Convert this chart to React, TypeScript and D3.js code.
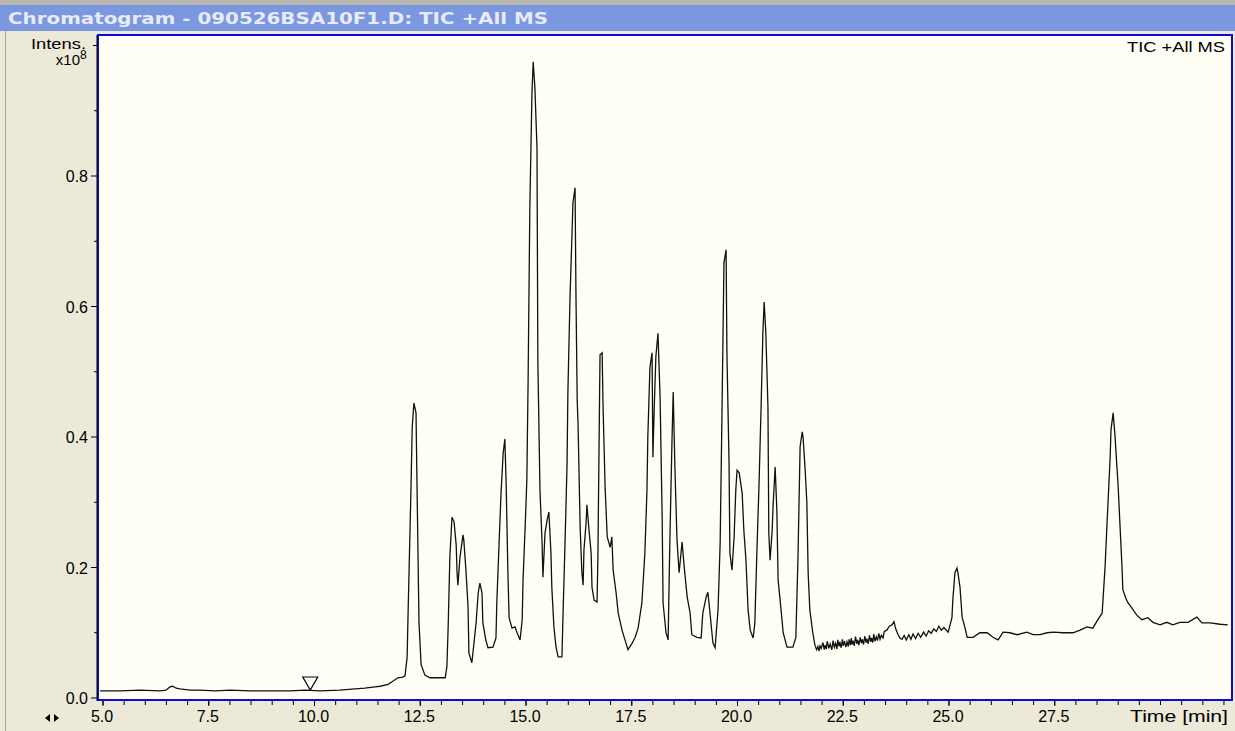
import React from "react";
import * as d3 from "d3";

// ---- data ----
const retentionTime: number[] = [
  4.93, 5.4, 5.87, 6.35, 6.49, 6.58, 6.65, 6.73, 6.82, 7.06, 7.29, 7.65, 8.0, 8.48, 8.95, 9.42, 9.78, 10.13, 10.6,
  10.96, 11.19, 11.43, 11.55, 11.74, 11.86, 11.97, 12.09, 12.14,
  12.19, 12.21, 12.28, 12.31, 12.35, 12.4, 12.42, 12.47, 12.52, 12.61, 12.73, 13.09,
  13.13, 13.16, 13.2, 13.25, 13.3, 13.35, 13.37, 13.39, 13.44, 13.51, 13.53, 13.58, 13.63, 13.65, 13.72, 13.77,
  13.82, 13.87, 13.91, 13.96, 13.98, 14.05, 14.1, 14.22, 14.29, 14.31, 14.36, 14.41, 14.46, 14.5, 14.53, 14.57,
  14.6, 14.67, 14.74, 14.79, 14.86, 14.91, 14.93, 14.98, 15.02, 15.05, 15.09, 15.14, 15.17, 15.21, 15.26, 15.28,
  15.33, 15.38, 15.4, 15.45, 15.5, 15.54, 15.59, 15.61, 15.66, 15.71, 15.76, 15.85, 15.87, 15.92, 15.97, 15.99,
  16.04, 16.09, 16.11, 16.16, 16.18, 16.21, 16.23, 16.28, 16.32, 16.35, 16.37, 16.42, 16.44, 16.49, 16.54, 16.56,
  16.61, 16.68, 16.7, 16.73, 16.75, 16.8, 16.82, 16.87, 16.92, 16.99, 17.03, 17.06, 17.13, 17.18, 17.27, 17.34,
  17.41, 17.51, 17.58, 17.65, 17.74, 17.81, 17.86, 17.88, 17.93, 17.98, 18.0, 18.03, 18.07, 18.12, 18.17, 18.22,
  18.24, 18.31, 18.36, 18.4, 18.45, 18.48, 18.52, 18.57, 18.62, 18.69, 18.74, 18.81, 18.88, 18.92, 19.04, 19.14,
  19.18, 19.26, 19.3, 19.35, 19.42, 19.47, 19.54, 19.59, 19.63, 19.68, 19.73, 19.75, 19.8, 19.82, 19.87, 19.92,
  19.96, 19.99, 20.04, 20.11, 20.15, 20.2, 20.25, 20.3, 20.37, 20.41, 20.46, 20.51, 20.56, 20.6, 20.63, 20.67,
  20.72, 20.74, 20.77, 20.82, 20.84, 20.89, 20.93, 20.96, 21.03, 21.08, 21.17, 21.31, 21.38, 21.43, 21.48, 21.53,
  21.55, 21.6, 21.64, 21.67, 21.71, 21.78,
  21.83, 21.87, 21.9, 21.93, 21.95, 21.98, 22.02, 22.05, 22.07, 22.1, 22.12, 22.16, 22.19, 22.23, 22.26, 22.29,
  22.32, 22.35, 22.37, 22.4, 22.42, 22.45, 22.48, 22.5, 22.53, 22.56, 22.59, 22.62, 22.64, 22.67, 22.69, 22.71,
  22.73, 22.76, 22.79, 22.82, 22.84, 22.87, 22.9, 22.93, 22.95, 22.98, 23.01, 23.04, 23.06, 23.09, 23.12, 23.15,
  23.17, 23.2, 23.22, 23.25, 23.28, 23.31, 23.34, 23.37, 23.4, 23.44, 23.47, 23.53, 23.59,
  23.65, 23.7, 23.74, 23.79, 23.84, 23.89, 23.94, 23.99, 24.05, 24.1, 24.15, 24.21, 24.27, 24.33, 24.4, 24.46,
  24.52, 24.58, 24.64, 24.7, 24.76, 24.82, 24.88, 24.98,
  25.07, 25.09, 25.14, 25.19, 25.21, 25.26, 25.31, 25.38, 25.43, 25.57, 25.73, 25.9, 26.04, 26.16, 26.28, 26.44,
  26.61, 26.84, 26.99, 27.15, 27.32, 27.46, 27.7, 27.93, 28.1, 28.26, 28.4, 28.52, 28.62, 28.64, 28.69, 28.74,
  28.76, 28.81, 28.83, 28.88, 28.9, 28.92, 28.97, 29.0, 29.04, 29.09, 29.11, 29.18, 29.23, 29.32, 29.44, 29.56,
  29.7, 29.82, 29.99, 30.15, 30.29, 30.46, 30.65, 30.86, 30.98, 31.17, 31.41, 31.59,
];

// intensity in units of 1e8
const intensity: number[] = [
  0.011, 0.011, 0.012, 0.011, 0.012, 0.017, 0.018, 0.015, 0.014, 0.012, 0.012, 0.011, 0.012, 0.011, 0.011, 0.011, 0.012, 0.011, 0.012,
  0.014, 0.015, 0.017, 0.018, 0.021, 0.026, 0.031, 0.032, 0.034,
  0.063, 0.123, 0.319, 0.415, 0.452, 0.437, 0.342, 0.116, 0.051, 0.035, 0.031, 0.031,
  0.048, 0.109, 0.216, 0.277, 0.27, 0.234, 0.192, 0.173, 0.216, 0.25, 0.242, 0.196, 0.139, 0.069, 0.054, 0.084,
  0.115, 0.161, 0.176, 0.161, 0.115, 0.089, 0.077, 0.078, 0.092, 0.146, 0.231, 0.314, 0.375, 0.397, 0.33, 0.199,
  0.123, 0.107, 0.109, 0.1, 0.089, 0.12, 0.181, 0.262, 0.334, 0.487, 0.748, 0.924, 0.975, 0.936, 0.843, 0.518,
  0.319, 0.238, 0.185, 0.253, 0.273, 0.285, 0.222, 0.17, 0.109, 0.078, 0.063, 0.063, 0.115, 0.231, 0.357, 0.467,
  0.613, 0.717, 0.759, 0.782, 0.625, 0.457, 0.421, 0.262, 0.193, 0.173, 0.227, 0.268, 0.296, 0.257, 0.222, 0.17,
  0.15, 0.147, 0.216, 0.406, 0.526, 0.529, 0.452, 0.323, 0.247, 0.231, 0.247, 0.196, 0.161, 0.13, 0.104, 0.089,
  0.074, 0.084, 0.093, 0.107, 0.146, 0.222, 0.319, 0.4, 0.507, 0.529, 0.369, 0.441, 0.523, 0.559, 0.461, 0.273,
  0.146, 0.1, 0.089, 0.238, 0.391, 0.469, 0.354, 0.242, 0.192, 0.239, 0.201, 0.155, 0.13, 0.097, 0.093, 0.092,
  0.13, 0.155, 0.162, 0.13, 0.084, 0.077, 0.135, 0.238, 0.421, 0.667, 0.687, 0.529, 0.36, 0.222, 0.196, 0.247,
  0.319, 0.349, 0.345, 0.314, 0.257, 0.211, 0.135, 0.104, 0.092, 0.115, 0.227, 0.33, 0.452, 0.559, 0.607, 0.559,
  0.446, 0.253, 0.211, 0.257, 0.293, 0.354, 0.288, 0.181, 0.135, 0.1, 0.078, 0.078, 0.093, 0.216, 0.385, 0.408,
  0.4, 0.349, 0.299, 0.192, 0.135, 0.1,
  0.081, 0.074, 0.079, 0.072, 0.08, 0.076, 0.085, 0.074, 0.081, 0.075, 0.087, 0.076, 0.083, 0.074, 0.088, 0.078,
  0.084, 0.075, 0.089, 0.079, 0.086, 0.077, 0.09, 0.08, 0.087, 0.078, 0.086, 0.079, 0.09, 0.081, 0.092, 0.082,
  0.088, 0.08, 0.094, 0.083, 0.089, 0.081, 0.093, 0.084, 0.09, 0.082, 0.095, 0.085, 0.091, 0.083, 0.096, 0.086,
  0.092, 0.085, 0.098, 0.087, 0.094, 0.088, 0.099, 0.09, 0.096, 0.092, 0.102, 0.104, 0.11,
  0.112, 0.117, 0.106, 0.098, 0.092, 0.09, 0.096, 0.089, 0.097, 0.09, 0.098, 0.091, 0.099, 0.093, 0.101, 0.095,
  0.103, 0.099, 0.106, 0.102, 0.11, 0.104, 0.108, 0.101,
  0.123, 0.15, 0.192, 0.199, 0.192, 0.17, 0.124, 0.107, 0.093, 0.093, 0.1, 0.1, 0.093, 0.089, 0.101, 0.1,
  0.097, 0.101, 0.097, 0.097, 0.1, 0.101, 0.1, 0.1, 0.104, 0.109, 0.107, 0.12, 0.13, 0.15, 0.201, 0.273,
  0.3, 0.369, 0.411, 0.437, 0.421, 0.406, 0.354, 0.323, 0.268, 0.201, 0.166, 0.153, 0.146, 0.138, 0.127, 0.12,
  0.123, 0.116, 0.112, 0.116, 0.112, 0.116, 0.116, 0.124, 0.115, 0.115, 0.113, 0.112,
];

const xTickValues: number[] = [5.0, 7.5, 10.0, 12.5, 15.0, 17.5, 20.0, 22.5, 25.0, 27.5];
const xTickLabels: string[] = ["5.0", "7.5", "10.0", "12.5", "15.0", "17.5", "20.0", "22.5", "25.0", "27.5"];
const yTickValues: number[] = [0.0, 0.2, 0.4, 0.6, 0.8];
const yTickLabels: string[] = ["0.0", "0.2", "0.4", "0.6", "0.8"];
const markerTime = 9.9;

const titleText = "Chromatogram - 090526BSA10F1.D: TIC +All MS";
const traceLabel = "TIC +All MS";
const xAxisTitle = "Time [min]";

export default function App() {
  const W = 1235;
  const H = 731;
  const plot = { left: 98, right: 1232, top: 35, bottom: 700 };

  const x = d3.scaleLinear().domain([5, 30]).range([103, 103 + 25 * 42.3]);
  const y = d3.scaleLinear().domain([0, 1]).range([698, 45.5]);

  const pts: [number, number][] = retentionTime.map((t, i) => [t, intensity[i]]);
  const line = d3
    .line<[number, number]>()
    .x((d) => x(d[0]))
    .y((d) => y(d[1]));

  const minorX = d3.range(5, 31.6, 0.5);
  const minorY = d3.range(0.1, 1.0, 0.2);

  const mx = x(markerTime);
  const my = 677;

  const font = "'Liberation Sans', Arial, sans-serif";

  return (
    <svg
      width={W}
      height={H}
      style={{ position: "absolute", left: 0, top: 0, display: "block" }}
      fontFamily={font}
    >
      <defs>
        <clipPath id="plotClip">
          <rect x={plot.left + 1} y={plot.top + 1} width={plot.right - plot.left - 2} height={plot.bottom - plot.top - 2} />
        </clipPath>
      </defs>
      {/* window background */}
      <rect x={0} y={0} width={W} height={H} fill="#ECE9D8" />
      <rect x={0} y={0} width={W} height={5} fill="#B8B8B0" />
      <rect x={0} y={5} width={W} height={26} fill="#7B97E0" />
      <line x1={5.5} y1={31} x2={5.5} y2={H} stroke="#A8A8A0" strokeWidth={1} />
      <text
        x={8}
        y={24}
        fill="#E6ECFA"
        fontSize={15}
        fontWeight="bold"
        fontFamily="'DejaVu Sans', sans-serif"
        textLength={540}
        lengthAdjust="spacingAndGlyphs"
      >
        {titleText}
      </text>

      {/* plot area */}
      <rect
        x={plot.left}
        y={plot.top}
        width={plot.right - plot.left}
        height={plot.bottom - plot.top}
        fill="#FFFFF5"
        stroke="#0A0ADC"
        strokeWidth={2}
      />
      <line x1={plot.left - 1} y1={plot.top} x2={plot.left - 1} y2={plot.bottom + 1} stroke="#000" strokeWidth={1} />

      {/* trace */}
      <path d={line(pts) || ""} fill="none" stroke="#111" strokeWidth={1.3} clipPath="url(#plotClip)" />

      {/* marker triangle */}
      <path
        d={`M${mx - 7.5},${my} L${mx + 7.5},${my} L${mx},${my + 13} Z`}
        fill="#FFFFFF"
        stroke="#000"
        strokeWidth={1.2}
      />

      {/* y axis ticks */}
      {yTickValues.map((v, i) => (
        <g key={"yt" + i}>
          <line x1={plot.left - 7} x2={plot.left - 1} y1={y(v)} y2={y(v)} stroke="#000" strokeWidth={1} />
          <text x={plot.left - 10} y={y(v) + 6} fontSize={16} textAnchor="end" fill="#000">
            {yTickLabels[i]}
          </text>
        </g>
      ))}
      {minorY.map((v, i) => (
        <line key={"ym" + i} x1={plot.left - 4} x2={plot.left - 1} y1={y(v)} y2={y(v)} stroke="#000" strokeWidth={1} />
      ))}
      <line x1={plot.left - 5} x2={plot.left - 1} y1={y(1)} y2={y(1)} stroke="#000" strokeWidth={1} />
      <text x={31} y={49} fontSize={15} fill="#000" textLength={55} lengthAdjust="spacingAndGlyphs">
        Intens.
      </text>
      <text x={80} y={65} fontSize={15} fill="#000" textAnchor="end">
        x10
      </text>
      <text x={80} y={59} fontSize={12} fill="#000">
        8
      </text>

      {/* x axis ticks */}
      {minorX.map((t, i) => (
        <line key={"xm" + i} x1={x(t)} x2={x(t)} y1={plot.bottom + 1} y2={plot.bottom + 5} stroke="#000" strokeWidth={1} />
      ))}
      {xTickValues.map((t, i) => (
        <g key={"xt" + i}>
          <line x1={x(t)} x2={x(t)} y1={plot.bottom + 1} y2={plot.bottom + 6} stroke="#000" strokeWidth={1} />
          <text x={x(t) - 1} y={722} fontSize={16} textAnchor="middle" fill="#000">
            {xTickLabels[i]}
          </text>
        </g>
      ))}
      <text x={1130} y={722} fontSize={16} fill="#000" textLength={98} lengthAdjust="spacingAndGlyphs">
        {xAxisTitle}
      </text>

      {/* scroll arrows */}
      <path d="M45,718 L50,714 L50,722 Z" fill="#000" />
      <path d="M59,718 L54,714 L54,722 Z" fill="#000" />

      {/* trace label */}
      <text x={1127} y={52} fontSize={15} fill="#000" textLength={98} lengthAdjust="spacingAndGlyphs">
        {traceLabel}
      </text>
    </svg>
  );
}
